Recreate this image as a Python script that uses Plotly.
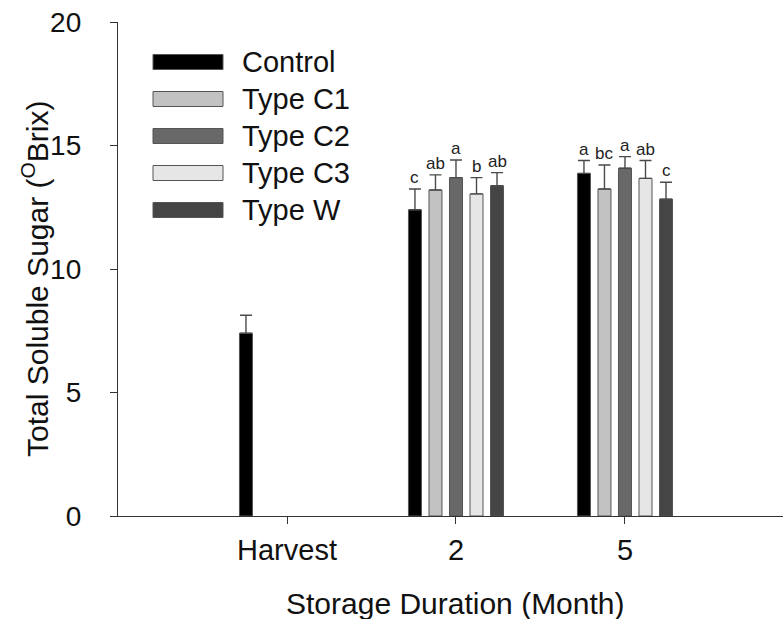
import plotly.graph_objects as go

# Storage duration categories
categories = ["Harvest", "2", "5"]

# Treatment series
series_names = ["Control", "Type C1", "Type C2", "Type C3", "Type W"]
series_colors = ["#000000", "#c2c2c2", "#686868", "#e6e6e6", "#454545"]

# Mean total soluble sugar (°Brix) per category; None = not measured
means = {
    "Control": [7.4, 12.4, 13.87],
    "Type C1": [None, 13.2, 13.24],
    "Type C2": [None, 13.7, 14.08],
    "Type C3": [None, 13.04, 13.67],
    "Type W":  [None, 13.37, 12.83],
}
# Standard errors (upper bars only)
errors = {
    "Control": [0.73, 0.84, 0.52],
    "Type C1": [None, 0.61, 0.97],
    "Type C2": [None, 0.71, 0.47],
    "Type C3": [None, 0.66, 0.72],
    "Type W":  [None, 0.53, 0.68],
}
# Significance letters
letters = {
    "Control": [None, "c", "a"],
    "Type C1": [None, "ab", "bc"],
    "Type C2": [None, "a", "a"],
    "Type C3": [None, "b", "ab"],
    "Type W":  [None, "ab", "c"],
}

y_ticks = [0, 5, 10, 15, 20]

FONT = "Liberation Sans, Arial, sans-serif"
W, H = 783, 619
L, R, T, B = 118, 0, 22, 103
BARGAP = 0.393
BARGROUPGAP = 0.366

fig = go.Figure()
for name, color in zip(series_names, series_colors):
    fig.add_trace(go.Bar(
        x=categories,
        y=means[name],
        name=name,
        marker=dict(color=color, line=dict(color="#555555", width=1)),
        error_y=dict(type="data", array=errors[name], arrayminus=[0, 0, 0],
                     symmetric=False, color="#4a4a4a", thickness=1.4, width=6),
        showlegend=False,
    ))

# Significance letters above the error bars
n = len(series_names)
slot = (1 - BARGAP) / n
for i, name in enumerate(series_names):
    for j, cat in enumerate(categories):
        lab = letters[name][j]
        if lab is None:
            continue
        fig.add_annotation(
            x=j + (i - (n - 1) / 2) * slot, xref="x",
            y=means[name][j] + errors[name][j], yref="y",
            text=lab, showarrow=False, yanchor="bottom", yshift=0,
            font=dict(family=FONT, size=17, color="#222222"),
        )

# Pixel -> paper helpers
pw, ph = W - L - R, H - T - B
def px(xp):
    return (xp - L) / pw
def py(yp):
    return (H - B - yp) / ph

# Legend drawn as wide swatches with labels
leg_top = 62
leg_step = 37
for k, (name, color) in enumerate(zip(series_names, series_colors)):
    cy = leg_top + k * leg_step
    fig.add_shape(type="rect", xref="paper", yref="paper",
                  x0=px(153), x1=px(223), y0=py(cy - 7.5), y1=py(cy + 7.5),
                  fillcolor=color, line=dict(color="#555555", width=1))
    fig.add_annotation(xref="paper", yref="paper", x=px(240), y=py(cy),
                       text=name, showarrow=False, xanchor="left", yanchor="middle",
                       font=dict(family=FONT, size=29, color="#111111"))

# Axis titles
fig.add_annotation(xref="x", yref="paper", x=1, y=py(603), text="Storage Duration (Month)",
                   showarrow=False, xanchor="center", yanchor="middle",
                   font=dict(family=FONT, size=30, color="#111111"))
fig.add_annotation(xref="paper", yref="paper", x=px(35), y=py(279),
                   text="Total Soluble Sugar (<sup>O</sup>Brix)", textangle=-90,
                   showarrow=False, xanchor="center", yanchor="middle",
                   font=dict(family=FONT, size=30, color="#111111"))

fig.update_layout(
    width=W, height=H,
    margin=dict(l=L, r=R, t=T, b=B, pad=0),
    paper_bgcolor="white", plot_bgcolor="white",
    barmode="group", bargap=BARGAP, bargroupgap=BARGROUPGAP,
    font=dict(family=FONT, size=28, color="#111111"),
    xaxis=dict(
        type="category", categoryorder="array", categoryarray=categories,
        range=[-1, 2.935], showline=True, linecolor="#333333", linewidth=1.3,
        ticks="outside", ticklen=7, tickcolor="#333333", tickwidth=1.3,
        showgrid=False, zeroline=False, ticklabelstandoff=1,
        tickfont=dict(family=FONT, size=29, color="#111111"),
    ),
    yaxis=dict(
        range=[0, 20], tickvals=y_ticks, showline=True, linecolor="#333333", linewidth=1.3,
        ticks="outside", ticklen=7, tickcolor="#333333", tickwidth=1.3,
        showgrid=False, zeroline=False, ticklabelstandoff=23,
        tickfont=dict(family=FONT, size=28, color="#111111"),
    ),
)

fig.write_html("out.html")
